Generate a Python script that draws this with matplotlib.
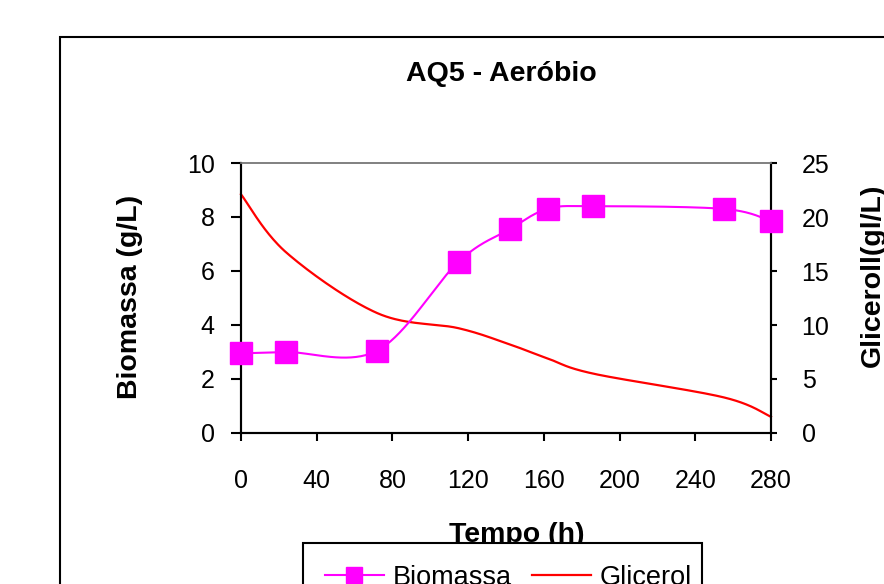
import numpy as np
import matplotlib
matplotlib.use("Agg")
from matplotlib import pyplot as plt
from matplotlib.patches import Rectangle
from matplotlib.lines import Line2D

plt.rcParams['font.family'] = ['Liberation Sans', 'DejaVu Sans']

# data
tempo = [0, 24, 72, 115, 142, 162, 186, 255, 280]
biomassa = [2.95, 3.0, 3.05, 6.35, 7.55, 8.3, 8.4, 8.3, 7.85]
glicerol = [22.1, 16.7, 11.1, 9.7, 8.2, 6.9, 5.5, 3.3, 1.5]

x_ticks = [0, 40, 80, 120, 160, 200, 240, 280]
left_ticks = [0, 2, 4, 6, 8, 10]
right_ticks = [0, 5, 10, 15, 20, 25]


def excel_smooth(xs, ys, n=40):
    """Bezier smoothing like the spreadsheet 'smoothed line' option."""
    pts = np.column_stack([xs, ys]).astype(float)
    ext = np.vstack([pts[0], pts, pts[-1]])
    t = np.linspace(0, 1, n)[:, None]
    out = []
    for i in range(len(pts) - 1):
        p0 = ext[i + 1]
        p3 = ext[i + 2]
        c1 = p0 + (ext[i + 2] - ext[i]) / 6.0
        c2 = p3 - (ext[i + 3] - ext[i + 1]) / 6.0
        seg = ((1 - t) ** 3) * p0 + 3 * ((1 - t) ** 2) * t * c1 + 3 * (1 - t) * t ** 2 * c2 + t ** 3 * p3
        out.append(seg if i == 0 else seg[1:])
    curve = np.vstack(out)
    return curve[:, 0], curve[:, 1]


fig = plt.figure(figsize=(8.84, 5.84), dpi=100)
W, H = 884.0, 584.0

ax = fig.add_axes([241 / W, 1 - 433 / H, 530 / W, 270 / H])
ax2 = ax.twinx()

bx, by = excel_smooth(tempo, biomassa)
gx, gy = excel_smooth(tempo, glicerol)

ax2.plot(gx, gy, color='#ff0000', lw=1.6, clip_on=False)
ax.plot(bx, by, color='#ff00ff', lw=1.5, clip_on=False, zorder=3)
ax.plot(tempo, biomassa, ls='none', marker='s', ms=16, color='#ff00ff', clip_on=False, zorder=4)
ax.set_zorder(ax2.get_zorder() + 1)
ax.patch.set_visible(False)

ax.set_xlim(0, 280)
ax.set_ylim(0, 10)
ax2.set_ylim(0, 25)
ax.set_xticks(x_ticks)
ax.set_yticks(left_ticks)
ax2.set_yticks(right_ticks)

for a in (ax, ax2):
    for s in ('left', 'right', 'bottom'):
        a.spines[s].set_linewidth(1.5)
        a.spines[s].set_color('black')
    a.spines['top'].set_color('#808080')
    a.spines['top'].set_linewidth(1.2)

ax.tick_params(axis='x', direction='out', length=6, width=1.5, labelsize=18, pad=20)
ax.tick_params(axis='y', direction='out', length=7, width=1.5, labelsize=18, pad=12)
ax2.tick_params(axis='y', direction='out', length=4, width=1.5, labelsize=18, pad=18)

fig.text(501 / W, 1 - 81 / H, 'AQ5 - Aeróbio', ha='center', va='baseline',
         fontsize=20.5, fontweight='bold')
fig.text(130 / W, 1 - 297 / H, 'Biomassa (g/L)', ha='center', va='center',
         rotation=90, fontsize=20.5, fontweight='bold')
fig.text(860 / W, 1 - 275 / H, 'Gliceroll(gl/L)', ha='left', va='center',
         rotation=90, fontsize=20.5, fontweight='bold')
fig.text(517 / W, 1 - 542 / H, 'Tempo (h)', ha='center', va='baseline',
         fontsize=20.5, fontweight='bold')

# outer chart border, cut by the figure edges
fig.patches.append(Rectangle((60 / W, -0.2), 1.0, 1.2 - 37 / H, transform=fig.transFigure,
                             fill=False, edgecolor='black', lw=1.5))

# legend box
fig.patches.append(Rectangle((303 / W, -0.2), 399 / W, 0.2 + 1 - 543 / H, transform=fig.transFigure,
                             facecolor='white', edgecolor='black', lw=1.5, zorder=5))
handles = [Line2D([], [], color='#ff00ff', lw=1.5, marker='s', ms=12),
           Line2D([], [], color='#ff0000', lw=1.6)]
leg = fig.legend(handles, ['Biomassa', 'Glicerol'], loc='upper left',
                 bbox_to_anchor=(303 / W, 1 - 543 / H), ncol=2, frameon=False,
                 fontsize=19.5, borderpad=0.8, handlelength=2.2, handletextpad=0.3,
                 columnspacing=0.75, borderaxespad=0)
leg.set_zorder(6)

fig.savefig('out.png', dpi=100)
